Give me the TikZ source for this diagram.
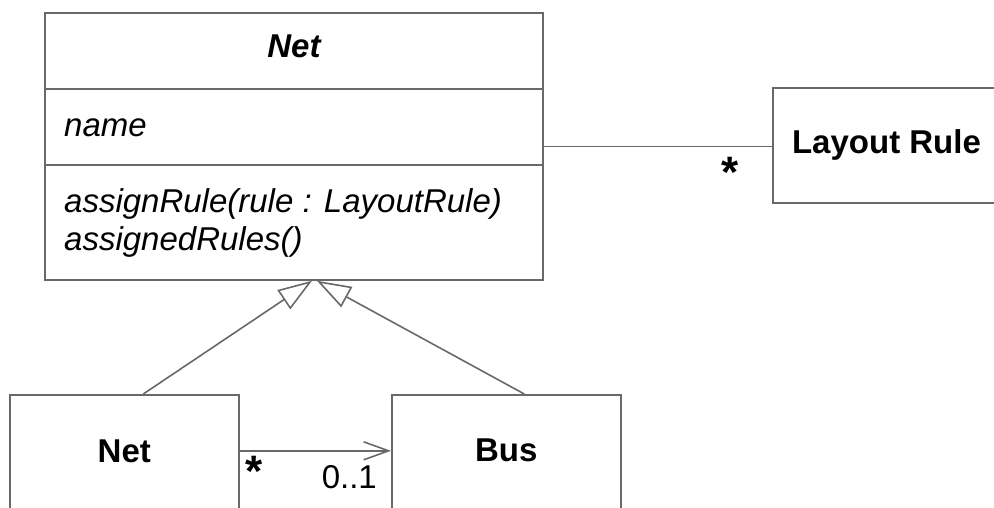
\documentclass[tikz,border=0pt]{standalone}
\usepackage{fontspec}
\setmainfont{Liberation Sans}
\usetikzlibrary{arrows.meta,calc}
\definecolor{umlline}{RGB}{105,105,105}
\tikzset{
  umlbox/.style={draw=umlline, line width=1.6pt, inner sep=0pt},
  umltext/.style={inner sep=0pt, anchor=base, font=\fontsize{33}{40}\selectfont},
  umlname/.style={umltext, font=\fontsize{33}{40}\selectfont\bfseries},
  umlattr/.style={umltext, anchor=base west, font=\fontsize{33}{40}\selectfont\itshape},
  umlmult/.style={umltext, font=\fontsize{44}{48}\selectfont\bfseries},
  assoc/.style={draw=umlline, line width=1.6pt},
  navig/.style={assoc, -{Straight Barb[length=25pt,width=18pt]}},
  generalize/.style={assoc, -{Triangle[open,length=34pt,width=23pt]}},
}
\begin{document}
\begin{tikzpicture}[x=1pt,y=-1pt]
  \useasboundingbox (0,0) rectangle (994,508);
  \clip (0,0) rectangle (994,508);
  % abstract class with its compartments
  \node[umlbox, minimum width=498pt, minimum height=267pt] (net) at (294,146.5) {};
  \draw[assoc] (net.west |- 0,89) -- (net.east |- 0,89);
  \draw[assoc] (net.west |- 0,165) -- (net.east |- 0,165);
  \node[umltext, font=\fontsize{33}{40}\selectfont\bfseries\itshape] (nettitle) at (294,58) {Net};
  \node[umlattr] (netname) at (64,137) {name};
  \node[umlattr] (netassign) at (64,212) {assignRule(rule : LayoutRule)};
  \node[umlattr] (netassigned) at (64,251) {assignedRules()};
  % the other classes
  \node[umlbox, minimum width=250pt, minimum height=115pt, anchor=west] (rule) at (772,145.5) {};
  \node[umlname] (ruletxt) at (886.5,154) {Layout Rule};
  \node[umlbox, minimum width=229pt, minimum height=150pt, anchor=north west] (netsub) at (9,394) {};
  \node[umlname] (netsubtxt) at (netsub.north |- 0,462) {Net};
  \node[umlbox, minimum width=229pt, minimum height=150pt, anchor=north west] (bus) at (391,394) {};
  \node[umlname] (bustxt) at (bus.north |- 0,461) {Bus};
  % associations
  \draw[assoc] (net.east) -- (net.east -| rule.west);
  \node[umlmult] (rulemult) at (730,188) {*};
  \draw[navig] (netsubtxt -| netsub.east) -- (netsubtxt -| bus.west);
  \node[umlmult] (netsubmult) at (254,486) {*};
  \node[umltext, anchor=base east] (busmult) at (377,488) {0..1};
  % generalizations
  \draw[generalize] ($(netsub.north)+(19,0)$) -- ($(net.south)+(18,0)$);
  \draw[generalize] ($(bus.north)+(18,0)$) -- ($(net.south)+(23,0)$);
\end{tikzpicture}
\end{document}
